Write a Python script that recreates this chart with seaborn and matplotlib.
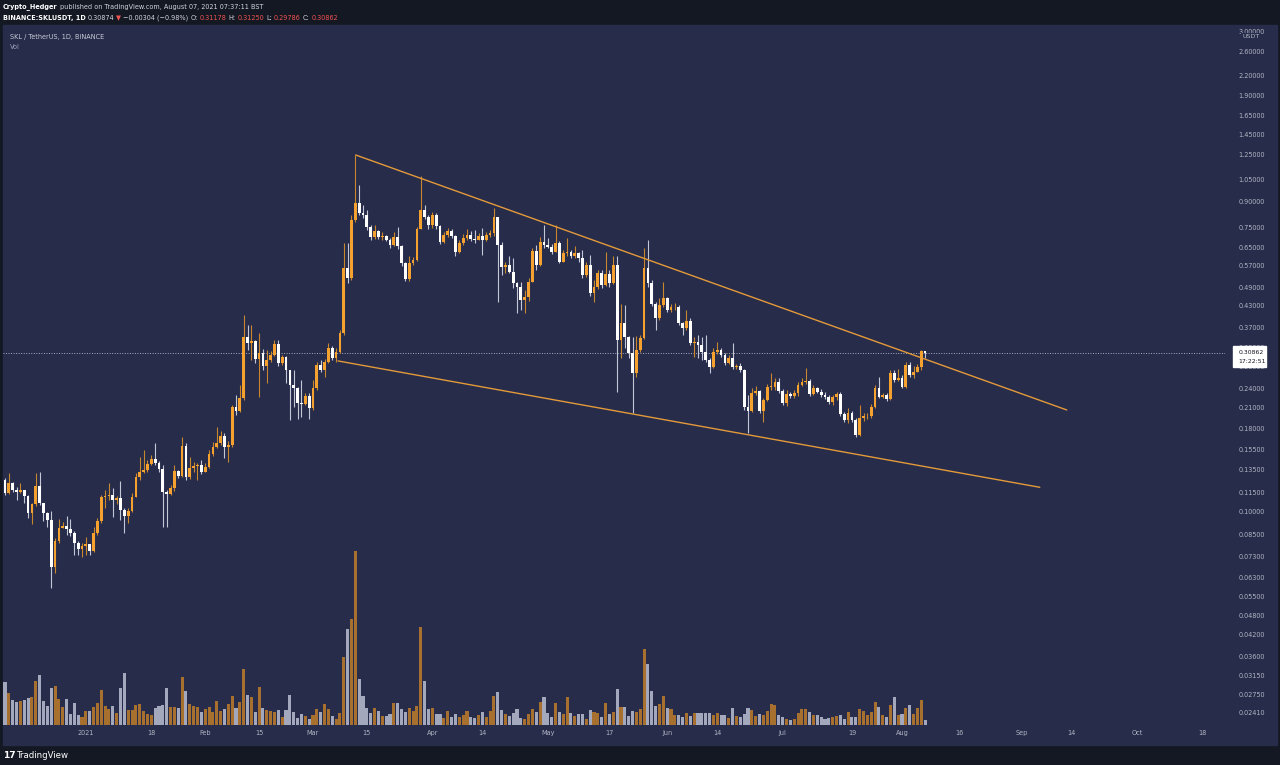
import numpy as np
import pandas as pd
import matplotlib
matplotlib.use("Agg")
import matplotlib.pyplot as plt
import matplotlib.dates as mdates
from matplotlib.patches import Rectangle
from matplotlib.ticker import NullLocator
import seaborn as sns

# ---- data (SKL / TetherUS, 1D, BINANCE) ----
first_open = 0.1253

closes = [
    0.1141, 0.1224, 0.1168, 0.1154, 0.1168, 0.1119, 0.0990, 0.1057, 0.1200, 0.1065,
    0.0992, 0.0944, 0.0675, 0.0815, 0.0893, 0.0906, 0.0883, 0.0859, 0.0800, 0.0767,
    0.0786, 0.0794, 0.0759, 0.0859, 0.0937, 0.1108, 0.1119, 0.1123, 0.1088, 0.1101,
    0.1013, 0.0971, 0.1008, 0.1113, 0.1282, 0.1329, 0.1345, 0.1400, 0.1454, 0.1417,
    0.1352, 0.1149, 0.1135, 0.1182, 0.1338, 0.1289, 0.1597, 0.1282, 0.1362, 0.1387,
    0.1394, 0.1329, 0.1376, 0.1506, 0.1587, 0.1625, 0.1714, 0.1587, 0.1605, 0.2106,
    0.2047, 0.2235, 0.3455, 0.3312, 0.3359, 0.2945, 0.3085, 0.2808, 0.2930, 0.3036,
    0.3281, 0.2862, 0.2987, 0.2730, 0.2455, 0.2398, 0.2158, 0.2146, 0.2270, 0.2082,
    0.2398, 0.2828, 0.2730, 0.2895, 0.3183, 0.2966, 0.3108, 0.3552, 0.5607, 0.5222,
    0.7890, 0.8916, 0.8310, 0.8172, 0.7528, 0.7013, 0.7298, 0.6985, 0.7047, 0.6850,
    0.6614, 0.6985, 0.6565, 0.5808, 0.5185, 0.5834, 0.5945, 0.7402, 0.8470, 0.8075,
    0.7613, 0.8172, 0.7575, 0.6768, 0.7095, 0.7314, 0.7047, 0.6304, 0.6722, 0.6933,
    0.7095, 0.6882, 0.6850, 0.7047, 0.6850, 0.7095, 0.7182, 0.8042, 0.6614, 0.5671,
    0.5741, 0.5455, 0.5039, 0.4906, 0.4480, 0.4585, 0.5099, 0.6349, 0.5741, 0.6768,
    0.6614, 0.6537, 0.6304, 0.6722, 0.5873, 0.6233, 0.6304, 0.6101, 0.6259, 0.6018,
    0.5346, 0.5741, 0.4699, 0.4906, 0.5437, 0.4978, 0.5386, 0.5039, 0.5741, 0.3375,
    0.3815, 0.3455, 0.3072, 0.2668, 0.3145, 0.3416, 0.5607, 0.5039, 0.4355, 0.3937,
    0.4327, 0.4534, 0.4170, 0.4250, 0.4268, 0.3798, 0.3666, 0.3871, 0.3312, 0.3328,
    0.3258, 0.3101, 0.2930, 0.2795, 0.3108, 0.3145, 0.3036, 0.2862, 0.2966, 0.2784,
    0.2808, 0.2730, 0.2097, 0.2047, 0.2325, 0.2359, 0.2047, 0.2208, 0.2416, 0.2426,
    0.2509, 0.2359, 0.2166, 0.2304, 0.2270, 0.2315, 0.2455, 0.2509, 0.2522, 0.2304,
    0.2398, 0.2342, 0.2287, 0.2259, 0.2182, 0.2250, 0.2304, 0.2000, 0.1916, 0.2009,
    0.1916, 0.1723, 0.1939, 0.1966, 0.1976, 0.2097, 0.2398, 0.2259, 0.2287, 0.2219,
    0.2679, 0.2540, 0.2571, 0.2426, 0.2828, 0.2636, 0.2697, 0.2784, 0.31178, 0.30862,
]

highs = [
    0.1268, 0.1314, 0.1235, 0.1193, 0.1231, 0.1168, 0.1127, 0.1065, 0.1316, 0.1326,
    0.1065, 0.0999, 0.1003, 0.0830, 0.0950, 0.0931, 0.0971, 0.0950, 0.0873, 0.0813,
    0.0802, 0.0836, 0.0796, 0.0898, 0.0957, 0.1127, 0.1168, 0.1227, 0.1185, 0.1119,
    0.1244, 0.1028, 0.1028, 0.1144, 0.1316, 0.1472, 0.1550, 0.1444, 0.1496, 0.1628,
    0.1434, 0.1394, 0.1168, 0.1209, 0.1394, 0.1345, 0.1702, 0.1632, 0.1478, 0.1424,
    0.1414, 0.1444, 0.1414, 0.1550, 0.1640, 0.1827, 0.1772, 0.1747, 0.1651, 0.2131,
    0.2287, 0.2455, 0.4025, 0.3750, 0.3750, 0.3375, 0.3552, 0.3167, 0.3145, 0.3123,
    0.3375, 0.3375, 0.3036, 0.3015, 0.2730, 0.2730, 0.2420, 0.2540, 0.2320, 0.2320,
    0.2540, 0.2889, 0.2930, 0.2951, 0.3304, 0.3234, 0.3190, 0.3620, 0.6708, 0.6692,
    0.8172, 1.2500, 1.0110, 0.8775, 0.8470, 0.7613, 0.7613, 0.7350, 0.7246, 0.7095,
    0.6947, 0.7246, 0.7508, 0.6614, 0.5860, 0.6131, 0.6088, 0.7508, 1.0770, 0.8775,
    0.8172, 0.8351, 0.8293, 0.7613, 0.7246, 0.7455, 0.7402, 0.7095, 0.6850, 0.7146,
    0.7402, 0.7298, 0.7350, 0.7195, 0.7440, 0.7246, 0.7350, 0.8573, 0.8059, 0.6768,
    0.5860, 0.6101, 0.6045, 0.5089, 0.5089, 0.4810, 0.5234, 0.6470, 0.6614, 0.7013,
    0.7592, 0.6947, 0.6661, 0.7592, 0.6802, 0.6380, 0.6933, 0.6380, 0.6565, 0.6288,
    0.6380, 0.5860, 0.6175, 0.5160, 0.5540, 0.5540, 0.6304, 0.5540, 0.6101, 0.6101,
    0.4345, 0.4327, 0.3472, 0.3455, 0.3472, 0.3497, 0.6456, 0.6850, 0.5160, 0.4427,
    0.4544, 0.5099, 0.4585, 0.4355, 0.4386, 0.4327, 0.3836, 0.4170, 0.3945, 0.3455,
    0.3497, 0.3455, 0.3497, 0.2972, 0.3190, 0.3335, 0.3190, 0.3080, 0.3036, 0.3298,
    0.2848, 0.2862, 0.2749, 0.2287, 0.2404, 0.2437, 0.2370, 0.2240, 0.2474, 0.2668,
    0.2576, 0.2576, 0.2387, 0.2370, 0.2337, 0.2370, 0.2509, 0.2576, 0.2763, 0.2558,
    0.2455, 0.2420, 0.2387, 0.2337, 0.2287, 0.2287, 0.2337, 0.2337, 0.2028, 0.2086,
    0.2043, 0.1944, 0.2131, 0.2014, 0.2014, 0.2146, 0.2455, 0.2599, 0.2320, 0.2320,
    0.2730, 0.2730, 0.2743, 0.2636, 0.2889, 0.2889, 0.2808, 0.2848, 0.3145, 0.3125,
]

lows = [
    0.1127, 0.1135, 0.1152, 0.1088, 0.1145, 0.1065, 0.0957, 0.0918, 0.1043, 0.1050,
    0.0937, 0.0898, 0.0583, 0.0648, 0.0802, 0.0892, 0.0848, 0.0842, 0.0736, 0.0736,
    0.0726, 0.0736, 0.0736, 0.0752, 0.0848, 0.0925, 0.1028, 0.1088, 0.0964, 0.1057,
    0.0944, 0.0861, 0.0926, 0.0999, 0.1111, 0.1253, 0.1316, 0.1326, 0.1394, 0.1394,
    0.1326, 0.0900, 0.0900, 0.1127, 0.1160, 0.1271, 0.1280, 0.1253, 0.1262, 0.1326,
    0.1253, 0.1307, 0.1326, 0.1364, 0.1485, 0.1572, 0.1605, 0.1465, 0.1427, 0.1583,
    0.1985, 0.2028, 0.2208, 0.3145, 0.2930, 0.2868, 0.2261, 0.2730, 0.2487, 0.2889,
    0.3015, 0.2808, 0.2828, 0.2487, 0.1916, 0.2106, 0.1925, 0.1961, 0.2131, 0.1925,
    0.2057, 0.2370, 0.2692, 0.2594, 0.2868, 0.2930, 0.2889, 0.3080, 0.3497, 0.5050,
    0.5160, 0.7780, 0.8172, 0.8002, 0.7350, 0.6850, 0.6899, 0.6899, 0.6850, 0.6802,
    0.6470, 0.6565, 0.6425, 0.5708, 0.5124, 0.5124, 0.5741, 0.5903, 0.7402, 0.7946,
    0.7402, 0.7455, 0.7402, 0.6661, 0.6708, 0.6996, 0.6947, 0.6131, 0.6245, 0.6614,
    0.6850, 0.6802, 0.6695, 0.6850, 0.6175, 0.6802, 0.6996, 0.7047, 0.4427, 0.5346,
    0.5415, 0.5426, 0.4868, 0.4075, 0.4170, 0.4083, 0.4448, 0.5089, 0.5540, 0.5708,
    0.6470, 0.6470, 0.6203, 0.6288, 0.5820, 0.5860, 0.6131, 0.6031, 0.6031, 0.5860,
    0.5234, 0.5270, 0.4606, 0.4427, 0.4844, 0.4878, 0.4943, 0.4910, 0.5016, 0.2342,
    0.2972, 0.3190, 0.2972, 0.2009, 0.2594, 0.3101, 0.3399, 0.4910, 0.4294, 0.3620,
    0.3890, 0.4261, 0.4112, 0.4112, 0.4170, 0.3750, 0.3497, 0.3620, 0.3258, 0.2987,
    0.2966, 0.2930, 0.2889, 0.2668, 0.2775, 0.3057, 0.2994, 0.2828, 0.2848, 0.2749,
    0.2749, 0.2692, 0.2057, 0.1744, 0.2028, 0.2287, 0.2014, 0.1893, 0.2192, 0.2370,
    0.2370, 0.2320, 0.2131, 0.2116, 0.2240, 0.2240, 0.2270, 0.2437, 0.2474, 0.2270,
    0.2287, 0.2320, 0.2255, 0.2224, 0.2146, 0.2131, 0.2208, 0.1971, 0.1890, 0.1876,
    0.1890, 0.1695, 0.1711, 0.1903, 0.1930, 0.1944, 0.2086, 0.2240, 0.2240, 0.2192,
    0.2208, 0.2505, 0.2522, 0.2404, 0.2404, 0.2594, 0.2576, 0.2692, 0.2730, 0.29786,
]

volume_m = [
    130, 97, 75, 70, 72, 74, 80, 83, 132, 150,
    73, 57, 110, 117, 78, 55, 79, 32, 66, 30,
    24, 42, 43, 53, 65, 105, 57, 48, 57, 37,
    110, 157, 45, 46, 59, 64, 43, 33, 30, 50,
    56, 60, 110, 53, 53, 50, 145, 103, 63, 58,
    53, 40, 48, 55, 40, 72, 42, 47, 62, 87,
    50, 68, 167, 90, 83, 40, 113, 52, 46, 42,
    38, 45, 25, 46, 90, 40, 22, 33, 28, 18,
    30, 48, 40, 62, 48, 28, 18, 37, 203, 287,
    318, 523, 137, 87, 50, 37, 52, 42, 28, 27,
    32, 65, 66, 47, 40, 50, 43, 58, 293, 132,
    48, 50, 32, 34, 20, 43, 24, 32, 23, 30,
    42, 23, 20, 30, 38, 25, 42, 88, 99, 45,
    32, 28, 37, 48, 20, 17, 34, 48, 40, 70,
    83, 37, 23, 66, 40, 32, 83, 35, 28, 32,
    33, 18, 46, 40, 35, 23, 65, 33, 40, 108,
    53, 55, 28, 42, 40, 47, 227, 183, 102, 57,
    63, 87, 52, 48, 30, 30, 23, 37, 28, 37,
    35, 35, 35, 35, 30, 35, 30, 30, 22, 50,
    27, 23, 33, 52, 45, 28, 33, 30, 43, 62,
    60, 30, 25, 17, 15, 19, 35, 48, 48, 38,
    30, 30, 25, 18, 22, 25, 27, 30, 18, 40,
    25, 25, 47, 42, 30, 40, 68, 55, 30, 25,
    60, 83, 30, 32, 52, 60, 33, 52, 75, 15,
]

dates = pd.date_range("2020-12-11", periods=len(closes), freq="D")
last_price = 0.30862

# hand drawn trend lines (falling wedge)
upper_line_dates = pd.to_datetime(["2021-03-12 02:00", "2021-09-12 19:00"])
upper_line_prices = [1.25, 0.2057]
lower_line_dates = pd.to_datetime(["2021-03-07 12:00", "2021-09-05 19:00"])
lower_line_prices = [0.291, 0.119]

price_ticks = [3.0, 2.6, 2.2, 1.9, 1.65, 1.45, 1.25, 1.05, 0.9, 0.75, 0.65, 0.57,
               0.49, 0.43, 0.37, 0.32, 0.28, 0.24, 0.21, 0.18, 0.155, 0.135, 0.115,
               0.10, 0.085, 0.073, 0.063, 0.055, 0.048, 0.042, 0.036, 0.0315,
               0.0275, 0.0241]
date_ticks = pd.to_datetime(["2021-01-01", "2021-01-18", "2021-02-01", "2021-02-15",
                             "2021-03-01", "2021-03-15", "2021-04-01", "2021-04-14",
                             "2021-05-01", "2021-05-17", "2021-06-01", "2021-06-14",
                             "2021-07-01", "2021-07-19", "2021-08-01", "2021-08-16",
                             "2021-09-01", "2021-09-14", "2021-10-01", "2021-10-18"])
date_labels = ["2021", "18", "Feb", "15", "Mar", "15", "Apr", "14", "May", "17",
               "Jun", "14", "Jul", "19", "Aug", "16", "Sep", "14", "Oct", "18"]

# ---- colours ----
BG = "#141823"
PANE = "#262c4a"
TXT = "#b2b5c3"
UP = "#f5a130"
DOWN = "#ffffff"
UP_WICK = "#c8862e"
DOWN_WICK = "#c3c7d6"
VOL_UP = "#a8702e"
VOL_DOWN = "#a3a8bd"
LINE = "#e49a3a"
RED = "#ef5350"
LIGHT = "#d1d4dc"

sns.set_theme(style="dark")
plt.rcParams["font.family"] = ["DejaVu Sans"]

W, H = 1280, 765
fig = plt.figure(figsize=(12.8, 7.65), dpi=100, facecolor=BG)


def fx(px):
    return px / W


def fy(py):
    return 1 - py / H


fig.patches.append(Rectangle((fx(3), fy(745)), fx(1277) - fx(3), fy(25) - fy(745),
                             transform=fig.transFigure, color=PANE, zorder=-5))

rect = [fx(3), fy(725), fx(1225) - fx(3), fy(25) - fy(725)]
vax = fig.add_axes(rect)
ax = fig.add_axes(rect)
vax.set_facecolor(PANE)
ax.set_facecolor("none")

x = mdates.date2num(dates)
c = np.array(closes)
o = np.array([first_open] + closes[:-1])
hi = np.maximum(np.array(highs), np.maximum(o, c))
lo = np.minimum(np.array(lows), np.minimum(o, c))
up = c >= o

# volume overlay
vol_df = pd.DataFrame({"x": x, "vol": volume_m,
                       "dir": np.where(up, "up", "down")})
sns.barplot(data=vol_df, x="x", y="vol", hue="dir", native_scale=True,
            palette={"up": VOL_UP, "down": VOL_DOWN}, dodge=False, width=0.8,
            errorbar=None, legend=False, saturation=1, linewidth=0, ax=vax)
vax.set_ylim(0, 2100)

# candles
ax.set_yscale("log")
ax.vlines(x[up], lo[up], hi[up], color=UP_WICK, lw=0.8, zorder=2)
ax.vlines(x[~up], lo[~up], hi[~up], color=DOWN_WICK, lw=0.8, zorder=2)
body_lo = np.minimum(o, c)
body_hi = np.maximum(np.maximum(o, c), body_lo * 1.006)
ax.bar(x, body_hi - body_lo, bottom=body_lo, width=0.72,
       color=np.where(up, UP, DOWN), linewidth=0, zorder=3)

# trend lines
sns.lineplot(x=mdates.date2num(upper_line_dates), y=upper_line_prices, color=LINE,
             lw=1.0, estimator=None, ax=ax, zorder=4)
sns.lineplot(x=mdates.date2num(lower_line_dates), y=lower_line_prices, color=LINE,
             lw=1.0, estimator=None, ax=ax, zorder=4)

ax.axhline(last_price, color="#a9aec2", lw=0.7, ls=(0, (1, 1.6)), zorder=1)

xmin = x[0] - 0.52
xmax = x[0] + 316.9
for a in (ax, vax):
    a.set_xlim(xmin, xmax)
    a.grid(False)
    for s in a.spines.values():
        s.set_visible(False)
    a.set_xlabel("")
    a.set_ylabel("")
vax.set_xticks([])
vax.set_yticks([])

ax.set_ylim(0.02213, 3.136)
ax.yaxis.tick_right()
ax.yaxis.set_minor_locator(NullLocator())
ax.set_yticks(price_ticks)
ax.set_yticklabels([f"{p:.5f}" for p in price_ticks])
ax.tick_params(axis="y", length=0, pad=9.5, labelsize=4.7, labelcolor=TXT)
ax.set_xticks(mdates.date2num(date_ticks))
ax.set_xticklabels(date_labels)
ax.tick_params(axis="x", length=0, pad=3.6, labelsize=4.7, labelcolor=TXT)

# last price label
fig.patches.append(Rectangle((fx(1233), fy(367)), fx(1266) - fx(1233), fy(346) - fy(367),
                             transform=fig.transFigure, color="#ffffff", zorder=5))
fig.text(fx(1238.5), fy(352.5), f"{last_price:.5f}", fontsize=4.4, color="#131722",
         va="center", ha="left", zorder=6)
fig.text(fx(1238.5), fy(361.5), "17:22:51", fontsize=4.4, color="#131722",
         va="center", ha="left", zorder=6)
fig.text(fx(1251), fy(36.5), "USDT", fontsize=4.6, color=TXT, va="center", ha="center",
         zorder=6, bbox=dict(facecolor=PANE, edgecolor="none", pad=0.8))

# header lines, pieces placed one after the other
fs = 4.7
renderer = fig.canvas.get_renderer()


def text_run(x0, y0, parts, gap=2.5):
    cur = x0
    for s, col, wt in parts:
        t = fig.text(fx(cur), fy(y0), s, fontsize=fs, color=col, fontweight=wt,
                     va="center", ha="left")
        cur += t.get_window_extent(renderer).width + gap


text_run(3, 7, [("Crypto_Hedger", "#ffffff", "bold"),
                ("published on TradingView.com, August 07, 2021 07:37:11 BST", LIGHT, "normal")])
text_run(3, 18, [("BINANCE:SKLUSDT, 1D", "#ffffff", "bold"),
                 ("0.30874", LIGHT, "normal"),
                 ("\u25bc", RED, "normal"),
                 ("\u22120.00304 (\u22120.98%)", LIGHT, "normal"),
                 ("O:", LIGHT, "normal"), ("0.31178", RED, "normal"),
                 ("H:", LIGHT, "normal"), ("0.31250", RED, "normal"),
                 ("L:", LIGHT, "normal"), ("0.29786", RED, "normal"),
                 ("C:", LIGHT, "normal"), ("0.30862", RED, "normal")], gap=2.0)

fig.text(fx(10), fy(37), "SKL / TetherUS, 1D, BINANCE", fontsize=fs, color="#c9ccd8",
         va="center")
fig.text(fx(10), fy(47), "Vol", fontsize=fs, color="#9da2b5", va="center")

fig.text(fx(3), fy(755), "17", fontsize=6.5, color="#ffffff", fontweight="heavy",
         va="center")
fig.text(fx(17), fy(755), "TradingView", fontsize=6.2, color="#ffffff", va="center")

fig.savefig("out.png", dpi=100, facecolor=BG)
